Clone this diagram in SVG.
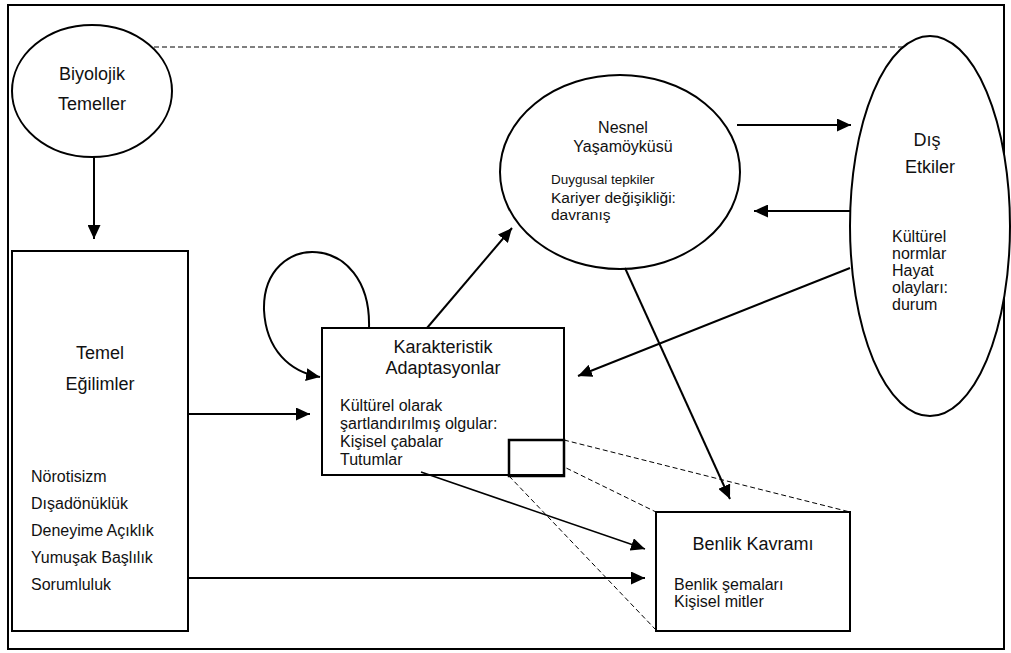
<svg xmlns="http://www.w3.org/2000/svg" width="1011" height="653" viewBox="0 0 1011 653">
<defs>
<marker id="ah" markerUnits="userSpaceOnUse" markerWidth="14" markerHeight="13" refX="14" refY="6.5" orient="auto">
<path d="M0,0 L14,6.5 L0,13 z" fill="#000"/>
</marker>
<style>
.n{fill:#fff;stroke:#000;stroke-width:2}
.t{font-family:"Liberation Sans",Arial,sans-serif;fill:#111}
.h{font-size:18px}
.b{font-size:16px}
.c{stroke:#000;stroke-width:2;fill:none}
.d{stroke:#000;stroke-width:1;fill:none;stroke-dasharray:5 3}
</style>
</defs>
<rect width="1011" height="653" fill="#fff"/>
<rect x="8" y="5" width="996" height="644" fill="none" stroke="#000" stroke-width="2"/>

<g id="dashes">
<line class="d" x1="154" y1="47" x2="903" y2="47"/>
<line class="d" x1="564" y1="440" x2="850" y2="512"/>
<line class="d" x1="509" y1="440" x2="656" y2="512"/>
<line class="d" x1="509" y1="476" x2="656" y2="630"/>
</g>

<g id="biyolojik">
<ellipse class="n" cx="92" cy="91" rx="80" ry="66"/>
<text class="t h" x="92" y="80" text-anchor="middle">Biyolojik</text>
<text class="t h" x="92" y="110" text-anchor="middle">Temeller</text>
</g>

<g id="temel">
<rect class="n" x="12" y="251" width="176" height="380"/>
<text class="t h" x="100" y="359" text-anchor="middle">Temel</text>
<text class="t h" x="100" y="390" text-anchor="middle">Eğilimler</text>
<text class="t b" x="31" y="482">Nörotisizm</text>
<text class="t b" x="31" y="509">Dışadönüklük</text>
<text class="t b" x="31" y="536">Deneyime Açıklık</text>
<text class="t b" x="31" y="563">Yumuşak Başlılık</text>
<text class="t b" x="31" y="590">Sorumluluk</text>
</g>

<g id="karakteristik">
<rect class="n" x="322" y="328" width="242" height="147"/>
<text class="t h" x="443" y="353" text-anchor="middle">Karakteristik</text>
<text class="t h" x="443" y="374" text-anchor="middle">Adaptasyonlar</text>
<text class="t b" x="340" y="411">Kültürel olarak</text>
<text class="t b" x="340" y="429">şartlandırılmış olgular:</text>
<text class="t b" x="340" y="447">Kişisel çabalar</text>
<text class="t b" x="340" y="465">Tutumlar</text>
<rect x="509" y="440" width="55" height="36" fill="none" stroke="#000" stroke-width="2.5"/>
</g>

<g id="nesnel">
<ellipse class="n" cx="620" cy="172" rx="120" ry="97"/>
<text class="t b" x="623" y="133" text-anchor="middle">Nesnel</text>
<text class="t b" x="623" y="152" text-anchor="middle">Yaşamöyküsü</text>
<text class="t" x="551" y="184" font-size="13.5">Duygusal tepkiler</text>
<text class="t" x="551" y="203" font-size="15.5">Kariyer değişikliği:</text>
<text class="t" x="551" y="220" font-size="15.5">davranış</text>
</g>

<g id="dis">
<ellipse class="n" cx="930" cy="226" rx="80" ry="190"/>
<text class="t h" x="927" y="146" text-anchor="middle">Dış</text>
<text class="t h" x="930" y="173" text-anchor="middle">Etkiler</text>
<text class="t b" x="892" y="242">Kültürel</text>
<text class="t b" x="892" y="259">normlar</text>
<text class="t b" x="892" y="276">Hayat</text>
<text class="t b" x="892" y="293">olayları:</text>
<text class="t b" x="892" y="310">durum</text>
</g>

<g id="benlik">
<rect class="n" x="656" y="512" width="194" height="119"/>
<text class="t h" x="753" y="550" text-anchor="middle">Benlik Kavramı</text>
<text class="t b" x="674" y="590">Benlik şemaları</text>
<text class="t b" x="674" y="607">Kişisel mitler</text>
</g>

<g id="connectors">
<line class="c" x1="94" y1="157" x2="94" y2="239" marker-end="url(#ah)"/>
<line class="c" x1="188" y1="414" x2="310" y2="414" marker-end="url(#ah)"/>
<line class="c" x1="188" y1="578" x2="645" y2="578" marker-end="url(#ah)"/>
<path class="c" d="M369,328 C372,230 262,230 264,310 C266,350 290,372 320,377" marker-end="url(#ah)"/>
<line class="c" x1="427" y1="328" x2="512" y2="228" marker-end="url(#ah)"/>
<line class="c" x1="737" y1="125" x2="851" y2="125" marker-end="url(#ah)"/>
<line class="c" x1="850" y1="211" x2="754" y2="211" marker-end="url(#ah)"/>
<line class="c" x1="850" y1="268" x2="578" y2="376" marker-end="url(#ah)"/>
<line class="c" x1="625" y1="268" x2="730" y2="499" marker-end="url(#ah)"/>
<line x1="421" y1="472" x2="645" y2="549" stroke="#000" stroke-width="1.5" marker-end="url(#ah)"/>
</g>
</svg>
